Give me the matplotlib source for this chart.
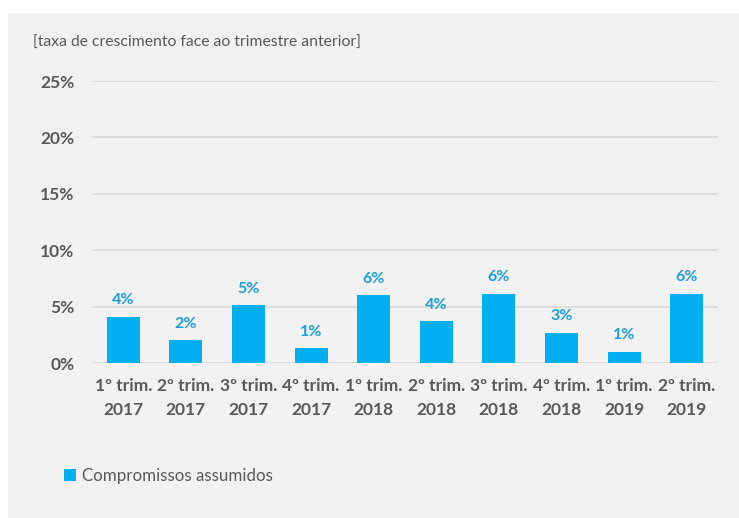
import matplotlib.pyplot as plt
from matplotlib.patches import Rectangle
import numpy as np

plt.rcParams['font.family'] = ['Lato', 'DejaVu Sans']

quarters = ['1º trim.\n2017', '2º trim.\n2017', '3º trim.\n2017', '4º trim.\n2017',
            '1º trim.\n2018', '2º trim.\n2018', '3º trim.\n2018', '4º trim.\n2018',
            '1º trim.\n2019', '2º trim.\n2019']
growth = [4.1, 2.0, 5.1, 1.3, 6.0, 3.7, 6.1, 2.7, 1.0, 6.1]
y_ticks = [0, 5, 10, 15, 20, 25]

bar_color = '#00B0F0'
label_color = '#1C9DD9'
text_color = '#595959'
panel_color = '#F2F2F2'

W, H = 739, 518
fig = plt.figure(figsize=(W / 100, H / 100), dpi=100)
fig.patch.set_facecolor('white')
fig.patches.append(Rectangle((8 / W, 0), 1 - 8 / W, (H - 13) / H,
                             transform=fig.transFigure, facecolor=panel_color,
                             edgecolor='none', zorder=-5))

ax = fig.add_axes([92 / W, (H - 363) / H, (718 - 92) / W, (363 - 81) / H])
ax.set_facecolor('none')

x = np.arange(len(quarters))
bars = ax.bar(x, growth, width=0.53, color=bar_color, zorder=3,
              label='Compromissos assumidos')

for xi, v in zip(x, growth):
    ax.annotate(f'{v:.0f}%', (xi, v), xytext=(0, 7), textcoords='offset points',
                ha='center', va='bottom', color=label_color, fontsize=11.5,
                fontweight='bold')

ax.set_xlim(-0.5, len(quarters) - 0.5)
ax.set_ylim(0, 25)
ax.set_yticks(y_ticks)
ax.set_yticklabels([f'{t}%' for t in y_ticks])
ax.yaxis.grid(True, color='#D9D9D9', linewidth=1.2, zorder=0)
ax.set_axisbelow(True)
ax.set_xticks(x)
ax.set_xticklabels(quarters, linespacing=1.6)

for s in ax.spines.values():
    s.set_visible(False)
ax.tick_params(axis='both', length=0, colors=text_color, labelsize=12.5)
ax.tick_params(axis='y', pad=12.5)
ax.tick_params(axis='x', pad=11)
for lbl in ax.get_xticklabels() + ax.get_yticklabels():
    lbl.set_fontweight('bold')

fig.text(33 / W, 1 - 43 / H, '[taxa de crescimento face ao trimestre anterior]',
         color=text_color, fontsize=11.3, ha='left', va='center')

fig.legend(handles=[bars], loc='center left', bbox_to_anchor=(57 / W, 1 - 476 / H),
           frameon=False, fontsize=12.2, handlelength=0.7, handleheight=0.7,
           handletextpad=0.4, labelcolor=text_color, borderaxespad=0)

fig.savefig('out.png', dpi=100, facecolor=fig.get_facecolor())
